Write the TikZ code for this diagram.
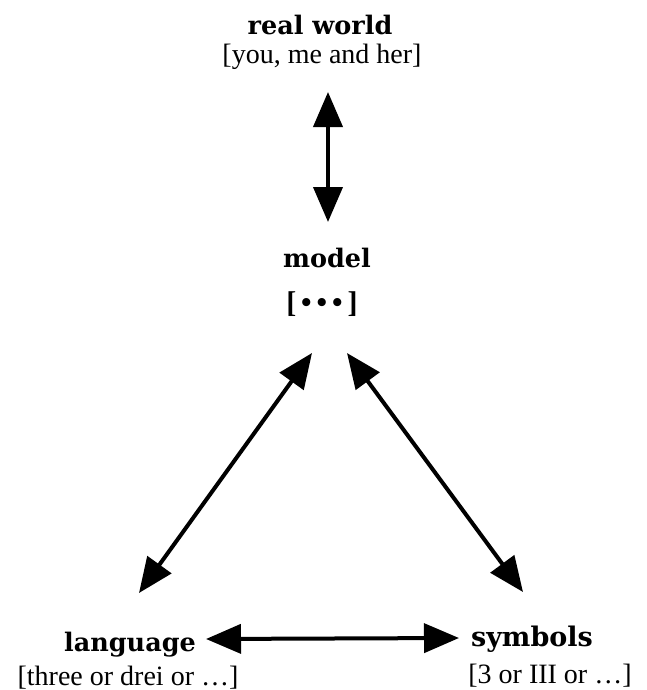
\documentclass[tikz,border=0pt]{standalone}
\usepackage{fontspec}
\setmainfont{Liberation Serif}
\newfontfamily\hdfont{DejaVu Serif}
\usetikzlibrary{arrows.meta}
\begin{document}
\begin{tikzpicture}[x=1pt,y=-1pt,
  title/.style={font=\hdfont\bfseries\fontsize{25.5}{25.5}\selectfont, inner sep=0pt, anchor=base},
  sub/.style={font=\fontsize{28}{28}\selectfont, inner sep=0pt, anchor=base},
  link/.style={line width=4pt, {Triangle[width=29pt,length=35pt]}-{Triangle[width=29pt,length=35pt]}}]
\useasboundingbox (0,0) rectangle (646,690);
% labels
\node[title] (rw) at (320,35) {real world};
\node[sub] (rwsub) at (322,64) {[you, me and her]};
\node[title] (model) at (327,267) {model};
\node[sub, font=\bfseries\fontsize{30}{30}\selectfont] (dots) at (322,312) {[\,\textbullet\,\textbullet\,\textbullet\,]};
\node[title] (lang) at (130,651) {language};
\node[sub] (langsub) at (128,685) {[three or drei or \dots]};
\node[title, font=\hdfont\bfseries\fontsize{27}{27}\selectfont] (sym) at (532,646) {symbols};
\node[sub] (symsub) at (550,683) {[3 or III or \dots]};
% connector ends
\coordinate (rwEnd) at (328,92);
\coordinate (mTop) at (328,222);
\coordinate (mLeft) at (312,353);
\coordinate (mRight) at (347,353);
\coordinate (lUp) at (139,593);
\coordinate (sUp) at (523,592);
\coordinate (lRight) at (206,639);
\coordinate (sLeft) at (459,638);
% connectors
\draw[link] (rwEnd) -- (mTop);
\draw[link] (mLeft) -- (lUp);
\draw[link] (mRight) -- (sUp);
\draw[link] (lRight) -- (sLeft);
\end{tikzpicture}
\end{document}
